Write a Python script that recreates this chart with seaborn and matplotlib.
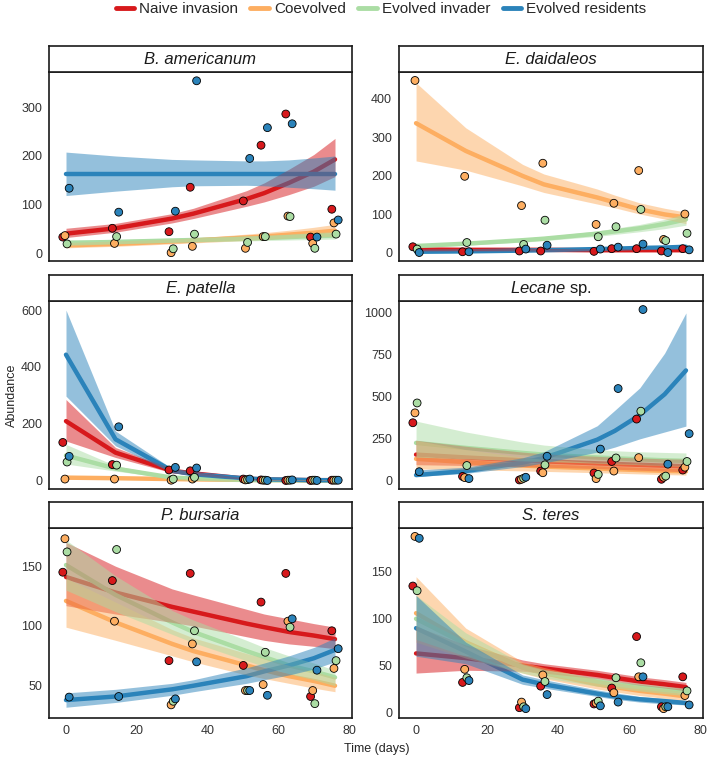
import numpy as np
import pandas as pd
import matplotlib
matplotlib.use('Agg')
import matplotlib.pyplot as plt
import seaborn as sns
from matplotlib.lines import Line2D

# treatments and sampling days
groups = ['Naive invasion', 'Coevolved', 'Evolved invader', 'Evolved residents']
colors = ['#D7191C', '#FDAE61', '#ABDDA4', '#2B83BA']
days = [0, 14, 30, 36, 51, 56, 63, 70, 76]

# B. americanum (rows: naive, coevolved, evolved invader, evolved residents)
bam_obs = [[34, 52, 45, 136, 108, 222, 286, 34, 91],
           [37, 21, 2, 15, 11, 35, 77, 21, 63],
           [20, 35, 10, 40, 23, 35, 76, 11, 40],
           [134, 85, 87, 354, 195, 258, 266, 34, 69]]
bam_fit = [[41, 52, 72, 82, 112, 124, 145, 168, 193],
           [17, 20, 25, 27, 33, 35, 39, 43, 47],
           [22, 24, 27, 28, 31, 32, 34, 36, 37],
           [164, 164, 164, 164, 164, 164, 164, 164, 164]]
bam_lo = [[33, 44, 63, 72, 97, 106, 121, 138, 158],
          [12, 15, 20, 22, 27, 29, 32, 34, 36],
          [17, 20, 23, 24, 26, 27, 28, 29, 30],
          [119, 128, 137, 139, 140, 139, 136, 133, 130]]
bam_hi = [[52, 62, 82, 93, 129, 145, 173, 203, 236],
          [23, 26, 30, 32, 40, 43, 48, 54, 60],
          [28, 29, 31, 32, 36, 37, 40, 43, 45],
          [208, 200, 193, 192, 190, 190, 192, 196, 200]]

# E. daidaleos
eda_obs = [[16, 3, 5, 5, 4, 11, 11, 5, 11],
           [448, 199, 123, 233, 74, 129, 214, 35, 101],
           [10, 27, 22, 85, 42, 68, 113, 32, 51],
           [1, 3, 10, 20, 10, 15, 23, 1, 8]]
eda_fit = [[9, 8, 8, 8, 7, 7, 7, 7, 7],
           [337, 265, 200, 178, 144, 131, 113, 100, 92],
           [18, 24, 33, 37, 50, 56, 64, 75, 87],
           [3, 4, 6, 7, 10, 11, 13, 14, 16]]
eda_lo = [[5, 5, 5, 5, 4, 4, 4, 4, 4],
          [239, 215, 174, 157, 127, 117, 101, 88, 76],
          [14, 20, 28, 32, 43, 48, 55, 63, 72],
          [1, 2, 4, 5, 7, 8, 9, 10, 11]]
eda_hi = [[13, 12, 11, 11, 11, 11, 11, 11, 11],
          [442, 325, 230, 205, 166, 150, 130, 116, 106],
          [23, 28, 38, 42, 57, 64, 74, 87, 102],
          [6, 6, 8, 9, 13, 14, 17, 19, 22]]

# E. patella
epa_obs = [[134, 56, 37, 34, 5, 2, 0, 0, 1],
           [5, 5, 1, 5, 2, 1, 1, 1, 1],
           [65, 54, 5, 11, 3, 1, 1, 1, 1],
           [85, 189, 46, 44, 5, 0, 2, 0, 1]]
epa_fit = [[209, 98, 34, 25, 6, 4, 2, 1, 1],
           [10, 8, 5, 4, 2, 2, 1, 1, 1],
           [88, 42, 10, 7, 2, 1, 1, 0, 0],
           [443, 145, 34, 22, 7, 4, 3, 1, 1]]
epa_lo = [[139, 81, 27, 19, 4, 2, 1, 0, 0],
          [5, 5, 3, 2, 1, 1, 0, 0, 0],
          [58, 33, 7, 5, 1, 1, 0, 0, 0],
          [297, 122, 28, 18, 5, 3, 2, 1, 0]]
epa_hi = [[285, 116, 42, 31, 8, 5, 3, 2, 1],
          [15, 11, 7, 6, 3, 3, 2, 2, 2],
          [127, 52, 13, 10, 3, 2, 1, 1, 1],
          [600, 174, 42, 28, 9, 6, 4, 3, 2]]

# Lecane sp.
lec_obs = [[345, 25, 4, 57, 45, 114, 367, 8, 63],
           [404, 18, 8, 47, 12, 57, 137, 20, 80],
           [463, 90, 14, 94, 37, 135, 414, 27, 114],
           [53, 12, 20, 145, 188, 549, 1020, 98, 280]]
lec_fit = [[155, 138, 121, 115, 103, 99, 94, 89, 85],
           [130, 110, 90, 84, 72, 68, 63, 58, 55],
           [225, 195, 165, 155, 138, 133, 127, 121, 118],
           [33, 57, 107, 135, 244, 297, 391, 515, 657]]
lec_lo = [[95, 90, 83, 80, 72, 68, 62, 57, 52],
          [70, 65, 58, 55, 47, 44, 40, 36, 33],
          [140, 130, 118, 114, 104, 100, 95, 90, 85],
          [24, 43, 84, 105, 170, 200, 249, 290, 325]]
lec_hi = [[240, 205, 170, 160, 145, 140, 135, 130, 128],
          [240, 185, 140, 127, 108, 104, 98, 92, 88],
          [355, 290, 230, 212, 185, 178, 172, 168, 165],
          [63, 80, 136, 172, 327, 420, 553, 760, 1000]]

# P. bursaria
pbu_obs = [[145, 138, 71, 144, 67, 120, 144, 41, 96],
           [173, 104, 34, 85, 46, 51, 104, 46, 64.5],
           [162, 164, 37, 96, 46, 78, 99, 35, 71],
           [40.5, 41, 39, 70, 46, 42, 106, 63, 81]]
pbu_fit = [[141, 128, 116, 112, 102, 99, 95, 92, 89],
           [121, 103, 85, 79, 67, 63, 58, 54, 50],
           [151, 126, 103, 95, 79, 74, 67, 62, 57],
           [38, 41, 47, 50, 58, 62, 67, 73, 80]]
pbu_lo = [[117, 110, 103, 100, 91, 88, 85, 83, 81],
          [99, 88, 75, 70, 59, 56, 52, 48, 45],
          [130, 112, 93, 86, 71, 66, 60, 55, 50],
          [32, 36, 42, 45, 52, 55, 59, 64, 70]]
pbu_hi = [[170, 150, 131, 126, 114, 110, 106, 102, 99],
          [140, 120, 97, 90, 77, 73, 67, 62, 57],
          [172, 142, 113, 105, 88, 82, 75, 69, 63],
          [44, 47, 52, 55, 65, 69, 75, 82, 90]]

# S. teres
ste_obs = [[135, 32, 5, 28, 9, 26, 81, 6, 38],
           [188, 46, 11, 40, 10, 21, 38, 4, 18],
           [130, 37, 6, 33, 12, 37, 53, 6, 23],
           [186, 34, 4, 19, 7, 11, 38, 6, 8]]
ste_fit = [[63, 58, 50, 47, 40, 37, 33, 30, 27],
           [106, 75, 48, 42, 30, 27, 23, 20, 17],
           [100, 73, 48, 42, 33, 30, 27, 24, 22],
           [90, 65, 35, 30, 20, 17, 14, 12, 10]]
ste_lo = [[42, 45, 44, 42, 36, 33, 29, 26, 23],
          [75, 58, 42, 36, 25, 22, 18, 15, 13],
          [78, 60, 42, 37, 28, 26, 23, 20, 18],
          [60, 52, 30, 26, 17, 14, 11, 9, 8]]
ste_hi = [[92, 72, 56, 52, 45, 42, 38, 35, 32],
          [145, 90, 54, 48, 35, 32, 28, 25, 22],
          [125, 85, 52, 46, 37, 34, 31, 28, 26],
          [125, 75, 40, 35, 24, 21, 17, 15, 13]]

species = ['B. americanum', 'E. daidaleos', 'E. patella', 'Lecane sp.', 'P. bursaria', 'S. teres']
# only "Lecane" is italic in its label, the others are fully italic
strip_labels = ['B. americanum', 'E. daidaleos', 'E. patella',
                r'$\it{Lecane}$ sp.', 'P. bursaria', 'S. teres']
tables = [(bam_obs, bam_fit, bam_lo, bam_hi), (eda_obs, eda_fit, eda_lo, eda_hi),
          (epa_obs, epa_fit, epa_lo, epa_hi), (lec_obs, lec_fit, lec_lo, lec_hi),
          (pbu_obs, pbu_fit, pbu_lo, pbu_hi), (ste_obs, ste_fit, ste_lo, ste_hi)]

# long tables for seaborn
obs_rows, fit_rows = [], []
for sp, (obs, fit, lo, hi) in zip(species, tables):
    for g, grp in enumerate(groups):
        for d, day in enumerate(days):
            obs_rows.append((sp, grp, day, obs[g][d]))
            fit_rows.append((sp, grp, day, fit[g][d], lo[g][d], hi[g][d]))
obs_df = pd.DataFrame(obs_rows, columns=['species', 'group', 'day', 'abundance'])
fit_df = pd.DataFrame(fit_rows, columns=['species', 'group', 'day', 'fit', 'lo', 'hi'])

# small horizontal dodge of the points, like position_dodge in the original
dodge = dict(zip(groups, [-0.9, -0.3, 0.3, 0.9]))
obs_df['x'] = obs_df['day'] + obs_df['group'].map(dodge)

sns.set_style('white')
plt.rcParams['font.family'] = ['Liberation Sans', 'DejaVu Sans']
plt.rcParams['mathtext.fontset'] = 'custom'
plt.rcParams['mathtext.it'] = 'Liberation Sans:italic'
plt.rcParams['mathtext.rm'] = 'Liberation Sans'

W, H = 709, 758
fig = plt.figure(figsize=(W / 100, H / 100), dpi=100)


def box(x0, y0, x1, y1):
    return [x0 / W, 1 - y1 / H, (x1 - x0) / W, (y1 - y0) / H]


cols = [(49, 352), (399, 703)]
rows = [(72, 261), (301, 489), (528, 718)]
ylims = [(-15, 372), (-21, 470), (-30, 632), (-50, 1071), (23, 182), (-6, 197)]
yticks = [[0, 100, 200, 300], [0, 100, 200, 300, 400], [0, 200, 400, 600],
          [0, 250, 500, 750, 1000], [50, 100, 150], [0, 50, 100, 150]]
pal = dict(zip(groups, colors))

for i, sp in enumerate(species):
    r, c = divmod(i, 2)
    ax = fig.add_axes(box(cols[c][0], rows[r][0], cols[c][1], rows[r][1]))
    f = fit_df[fit_df['species'] == sp]
    o = obs_df[obs_df['species'] == sp]

    sns.lineplot(data=f, x='day', y='fit', hue='group', hue_order=groups, palette=pal,
                 lw=3.2, estimator=None, legend=False, ax=ax, zorder=1)
    for grp in groups:
        fg = f[f['group'] == grp]
        ax.fill_between(fg['day'], fg['lo'], fg['hi'], color=pal[grp], alpha=0.5, lw=0, zorder=2)
    sns.scatterplot(data=o, x='x', y='abundance', hue='group', hue_order=groups, palette=pal,
                    s=32, edgecolor='black', linewidth=0.6, legend=False, ax=ax, zorder=3)

    ax.set_xlim(-4.8, 80.8)
    ax.set_ylim(*ylims[i])
    ax.set_yticks(yticks[i])
    ax.set_xticks([0, 20, 40, 60, 80])
    ax.set_xlabel('')
    ax.set_ylabel('')
    for s in ax.spines.values():
        s.set_color('#1a1a1a')
        s.set_linewidth(1.2)
    ax.tick_params(direction='out', length=3, width=0.8, color='#333333',
                   labelsize=9, labelcolor='#333333', pad=2)
    if r < 2:
        ax.tick_params(axis='x', bottom=False, labelbottom=False)

    st = fig.add_axes(box(cols[c][0], rows[r][0] - 26, cols[c][1], rows[r][0]))
    st.set_xticks([])
    st.set_yticks([])
    for s in st.spines.values():
        s.set_color('#1a1a1a')
        s.set_linewidth(1.2)
    style = 'normal' if sp.startswith('Lecane') else 'italic'
    st.text(0.5, 0.47, strip_labels[i], ha='center', va='center', fontsize=12,
            style=style, color='#1a1a1a', transform=st.transAxes)

fig.text(12 / W, 1 - 395 / H, 'Abundance', rotation=90, ha='center', va='center', fontsize=9)
fig.text(377 / W, 1 - 749 / H, 'Time (days)', ha='center', va='center', fontsize=9)

handles = [Line2D([0], [0], color=col, lw=3.5) for col in colors]
fig.legend(handles, groups, loc='center', bbox_to_anchor=(381 / W, 1 - 9 / H), ncol=4,
           frameon=False, fontsize=11, handlelength=1.2, handletextpad=0.35,
           columnspacing=0.8, borderaxespad=0, borderpad=0)

fig.savefig('out.png', dpi=100)
